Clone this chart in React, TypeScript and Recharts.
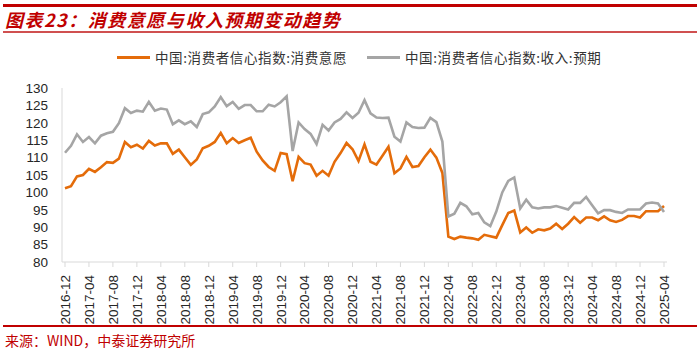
import React from 'react';
import { LineChart, Line, XAxis, YAxis, Legend } from 'recharts';

const months: string[] = [
  '2016-12',
  '2017-01', '2017-02', '2017-03', '2017-04', '2017-05', '2017-06', '2017-07', '2017-08', '2017-09', '2017-10', '2017-11', '2017-12',
  '2018-01', '2018-02', '2018-03', '2018-04', '2018-05', '2018-06', '2018-07', '2018-08', '2018-09', '2018-10', '2018-11', '2018-12',
  '2019-01', '2019-02', '2019-03', '2019-04', '2019-05', '2019-06', '2019-07', '2019-08', '2019-09', '2019-10', '2019-11', '2019-12',
  '2020-01', '2020-02', '2020-03', '2020-04', '2020-05', '2020-06', '2020-07', '2020-08', '2020-09', '2020-10', '2020-11', '2020-12',
  '2021-01', '2021-02', '2021-03', '2021-04', '2021-05', '2021-06', '2021-07', '2021-08', '2021-09', '2021-10', '2021-11', '2021-12',
  '2022-01', '2022-02', '2022-03', '2022-04', '2022-05', '2022-06', '2022-07', '2022-08', '2022-09', '2022-10', '2022-11', '2022-12',
  '2023-01', '2023-02', '2023-03', '2023-04', '2023-05', '2023-06', '2023-07', '2023-08', '2023-09', '2023-10', '2023-11', '2023-12',
  '2024-01', '2024-02', '2024-03', '2024-04', '2024-05', '2024-06', '2024-07', '2024-08', '2024-09', '2024-10', '2024-11', '2024-12',
  '2025-01', '2025-02', '2025-03', '2025-04',
];

const consumeWill: number[] = [
  101.2,
  101.8, 104.6, 105.0, 106.8, 105.9, 107.2, 108.7, 108.5, 109.7, 114.5, 113.0, 113.7,
  112.6, 114.8, 113.5, 114.1, 114.1, 111.1, 112.3, 110.1, 107.9, 109.5, 112.7, 113.4,
  114.5, 117.1, 114.1, 115.6, 114.2, 115.0, 115.7, 111.7, 109.2, 107.3, 106.2, 111.3,
  111.0, 103.2, 110.2, 108.4, 108.0, 104.8, 106.2, 104.8, 108.8, 111.3, 114.2, 112.4,
  109.0, 113.8, 108.8, 108.0, 110.5, 113.1, 105.5, 106.9, 110.2, 107.3, 107.6, 110.1,
  112.3, 110.0, 105.6, 87.3, 86.6, 87.3, 87.0, 86.8, 86.4, 87.8, 87.4, 87.0,
  90.6, 94.1, 94.8, 88.5, 89.9, 88.4, 89.4, 89.1, 89.6, 91.0, 89.5, 91.0,
  92.9, 91.3, 92.8, 92.8, 92.0, 93.1, 92.0, 91.5, 92.1, 93.2, 93.2, 92.8,
  94.6, 94.6, 94.6, 96.1,
];

const incomeExp: number[] = [
  111.4,
  113.4, 116.7, 114.5, 115.9, 114.1, 116.3, 117.0, 117.4, 119.9, 124.2, 122.8, 123.5,
  123.2, 126.0, 123.5, 124.1, 123.8, 119.6, 120.7, 119.6, 120.4, 118.8, 122.5, 123.0,
  124.7, 127.4, 124.8, 126.0, 124.0, 125.1, 125.1, 123.3, 123.3, 125.2, 124.7, 125.9,
  127.6, 111.9, 120.1, 118.2, 116.8, 113.9, 119.4, 117.8, 120.1, 121.1, 123.0, 121.4,
  122.9, 126.5, 122.7, 121.5, 121.4, 121.5, 116.0, 114.6, 120.1, 118.8, 118.5, 118.6,
  121.4, 120.2, 114.6, 93.1, 93.9, 97.0, 96.0, 93.7, 94.1, 91.4, 90.3, 94.5,
  100.0, 103.3, 104.3, 95.4, 97.9, 95.7, 95.4, 95.7, 95.7, 96.1, 95.6, 95.1,
  97.0, 97.0, 98.7, 96.3, 94.0, 94.9, 94.9, 94.4, 94.1, 95.1, 95.1, 95.1,
  96.8, 97.1, 96.8, 94.4,
];

const yTicks: number[] = [80, 85, 90, 95, 100, 105, 110, 115, 120, 125, 130];

const seriesNames = ['中国:消费者信心指数:消费意愿', '中国:消费者信心指数:收入:预期'];
const titleText = '图表23：消费意愿与收入预期变动趋势';
const sourceText = '来源：WIND，中泰证券研究所';

const data = months.map((m, i) => ({
  month: m,
  will: consumeWill[i],
  income: incomeExp[i],
}));

const ORANGE = '#E46C0A';
const GRAY = '#A5A5A5';
const RED = '#C00000';

const XTick = (props: any) => {
  const { x, y, payload } = props;
  return (
    <text
      transform={`translate(${x},${y + 6}) rotate(-90)`}
      textAnchor="end"
      dy="0.36em"
      fontSize={13.5}
      fontFamily="'Liberation Sans', Arial, sans-serif"
      fill="#262626"
    >
      {payload.value}
    </text>
  );
};

const LegendContent = () => (
  <div style={{ position: 'relative', width: 700, height: 20 }}>
    {[
      { name: seriesNames[0], color: ORANGE, left: 117 },
      { name: seriesNames[1], color: GRAY, left: 367 },
    ].map((it) => (
      <div
        key={it.name}
        style={{ position: 'absolute', left: it.left, top: 0, height: 20, display: 'flex', alignItems: 'center' }}
      >
        <div style={{ width: 33, height: 3, background: it.color }} />
        <span
          style={{
            marginLeft: 5,
            fontSize: 13.5,
            letterSpacing: 0.6,
            color: '#333',
            fontFamily: "'Noto Sans CJK SC', sans-serif",
            whiteSpace: 'nowrap',
          }}
        >
          {it.name}
        </span>
      </div>
    ))}
  </div>
);

export default function App() {
  return (
    <div style={{ position: 'absolute', left: 0, top: 0, width: 700, height: 353, background: '#fff', overflow: 'hidden' }}>
      <div style={{ position: 'absolute', left: 3, top: 4, width: 694, height: 2.5, background: RED }} />
      <div
        style={{
          position: 'absolute',
          left: 5,
          top: 8,
          fontSize: 18,
          fontWeight: 700,
          fontStyle: 'italic',
          letterSpacing: 1.5,
          color: RED,
          fontFamily: "'Noto Sans CJK SC', sans-serif",
          lineHeight: '22px',
          whiteSpace: 'nowrap',
        }}
      >
        {titleText}
      </div>
      <div style={{ position: 'absolute', left: 3, top: 31, width: 694, height: 1.5, background: '#D05050' }} />
      <LineChart
        width={700}
        height={353}
        data={data}
        margin={{ top: 88, right: 33, bottom: 0, left: 0 }}
      >
        <XAxis
          dataKey="month"
          interval={3}
          height={91}
          padding={{ left: 3, right: 3 }}
          stroke="#D9D9D9"
          tickLine={{ stroke: '#D9D9D9' }}
          tickSize={5}
          tick={<XTick />}
        />
        <YAxis
          domain={[80, 130]}
          ticks={yTicks}
          width={62}
          stroke="#D9D9D9"
          tickLine={false}
          tickSize={6}
          tickMargin={8}
          tick={{ fontSize: 13.5, fill: '#262626', fontFamily: "'Liberation Sans', Arial, sans-serif" }}
          interval={0}
        />
        <Legend
          layout="horizontal"
          verticalAlign="middle"
          content={<LegendContent />}
          wrapperStyle={{ position: 'absolute', top: 47, left: 0, width: 700, height: 20 }}
        />
        <Line
          type="linear"
          dataKey="will"
          name={seriesNames[0]}
          stroke={ORANGE}
          strokeWidth={2.6}
          dot={false}
          activeDot={false}
          isAnimationActive={false}
        />
        <Line
          type="linear"
          dataKey="income"
          name={seriesNames[1]}
          stroke={GRAY}
          strokeWidth={2.6}
          dot={false}
          activeDot={false}
          isAnimationActive={false}
        />
      </LineChart>
      <div style={{ position: 'absolute', left: 3, top: 325, width: 694, height: 1.5, background: RED }} />
      <div
        style={{
          position: 'absolute',
          left: 5,
          top: 331,
          fontSize: 14,
          color: RED,
          fontFamily: "'Noto Sans CJK SC', sans-serif",
          lineHeight: '18px',
          whiteSpace: 'nowrap',
        }}
      >
        {sourceText}
      </div>
    </div>
  );
}
